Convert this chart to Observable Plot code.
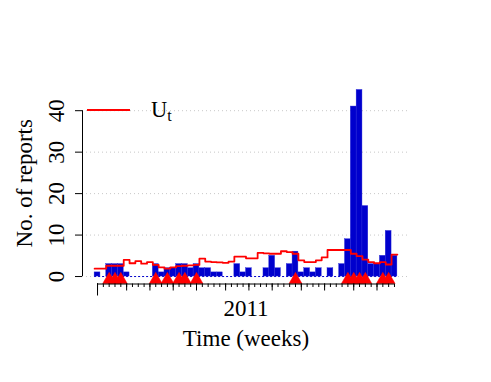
<!DOCTYPE html>
<html>
<head>
<meta charset="utf-8">
<script src="https://cdn.jsdelivr.net/npm/d3@7"></script>
<script src="https://cdn.jsdelivr.net/npm/@observablehq/plot@0.6"></script>
<style>
  html, body { margin: 0; padding: 0; background: #fff; }
  #wrap { position: relative; width: 491px; height: 382px; overflow: hidden; font-family: "Liberation Serif", "DejaVu Serif", serif; }
  #chart { position: absolute; left: 0; top: 0; }
  #legend { position: absolute; left: 0; top: 0; pointer-events: none; }
</style>
</head>
<body>
<div id="wrap">
  <div id="chart"></div>
  <svg id="legend" width="491" height="382">
    <line x1="87" x2="130" y1="110" y2="110" stroke="#ff0000" stroke-width="1.8"></line>
    <text x="151" y="117" font-family="Liberation Serif, serif" font-size="22.5" fill="#000">U<tspan font-size="16" dy="3.5">t</tspan></text>
  </svg>
</div>
<script>
// ---- data ----
const weeks = [1,2,3,4,5,6,7,8,9,10,11,12,13,14,15,16,17,18,19,20,21,22,23,24,25,26,
               27,28,29,30,31,32,33,34,35,36,37,38,39,40,41,42,43,44,45,46,47,48,49,50,51,52];
const observed = [1,0,3,3,3,1,0,0,0,0,3,1,2,2,3,3,2,3,2,2,1,1,0,0,3,1,
                  2,0,0,2,5,2,0,3,6,1,2,1,2,0,2,0,3,9,41,45,17,3,3,5,11,5];
const upperbound = [1.9,1.9,2.6,2.6,2.6,4.0,3.2,3.7,3.1,3.5,2.8,2.2,1.9,2.2,2.5,2.6,2.7,2.8,4.3,3.6,3.5,3.4,3.3,3.6,4.8,4.8,
                    4.4,4.4,5.7,5.6,5.5,5.5,6.1,5.9,5.5,3.9,3.5,3.5,3.9,4.6,6.4,6.4,6.4,6.4,5.5,4.9,4.1,3.5,3.2,3.5,2.9,5.3];
const alarmWeeks = [3,4,5,11,13,15,16,18,35,44,45,46,47,50,51];
const monthStartWeeks = [1,6,10,14,18,23,27,31,36,40,45,49];
const yearStartWeeks = [1];
const yearLabels = ["2011"];
const yTicks = [0,10,20,30,40];
const yLabel = "No. of reports";
const xLabel = "Time (weeks)";

// ---- derived tables ----
const table = weeks.map((w, i) => ({week: w, count: observed[i]}));
const stepData = weeks.map((w, i) => ({x: w - 0.5, y: upperbound[i]}));
stepData.push({x: weeks[weeks.length - 1] + 0.5, y: upperbound[upperbound.length - 1]});
const yearTable = yearLabels.map(label => ({label, week: d3.median(weeks)}));

// R-style 4% axis expansion
const xlo = weeks[0] - 0.5, xhi = weeks[weeks.length - 1] + 0.5;
const xpad = (xhi - xlo) * 0.04;
const ymax = Math.max(d3.max(observed), d3.max(upperbound));
const ypad = ymax * 0.04;

const serif = "Liberation Serif, serif";
const blue = "#0000CD";
const fs = 23;

const chart = Plot.plot({
  width: 491,
  height: 382,
  marginLeft: 82,
  marginRight: 82,
  marginTop: 82,
  marginBottom: 98.5,
  style: {background: "#fff", fontFamily: serif},
  x: {domain: [xlo - xpad, xhi + xpad], axis: null},
  y: {domain: [-ypad, ymax + ypad], axis: null},
  marks: [
    // dotted grid
    Plot.ruleY(yTicks, {stroke: "#c8c8c8", strokeDasharray: "1,3", strokeWidth: 1}),
    // zero baseline of histogram
    Plot.ruleY([0], {x1: xlo, x2: xhi, stroke: blue, strokeDasharray: "2,2", strokeWidth: 1}),
    // bars
    Plot.rectY(table, {x1: d => d.week - 0.5, x2: d => d.week + 0.5, y1: 0, y2: "count",
                       fill: blue, stroke: "#2a2ad8", strokeWidth: 0.4}),
    // threshold U_t
    Plot.line(stepData, {x: "x", y: "y", curve: "step-after", stroke: "#ff0000", strokeWidth: 1.8}),
    // alarms
    Plot.dot(alarmWeeks, {x: d => d, y: 0, dy: 3.3, symbol: "triangle", r: 4.8, fill: "#ff0000", stroke: "#ff0000", strokeWidth: 0.5}),
    // y axis
    Plot.ruleX([xlo - xpad], {y1: yTicks[0], y2: yTicks[yTicks.length - 1], stroke: "#000", strokeWidth: 1}),
    Plot.axisY(yTicks, {anchor: "left", tickSize: 7, tickFormat: () => "", stroke: "#000"}),
    Plot.text(yTicks, {y: d => d, text: d => String(d), frameAnchor: "left", dx: -19, rotate: -90,
                       lineAnchor: "bottom", textAnchor: "middle", fontSize: fs, fontFamily: serif, fill: "#000"}),
    Plot.text([yLabel], {frameAnchor: "left", dx: -51, rotate: -90, lineAnchor: "bottom",
                         textAnchor: "middle", fontSize: fs, fontFamily: serif, fill: "#000"}),
    // x axis
    Plot.ruleY([-ypad], {x1: weeks[0], x2: weeks[weeks.length - 1], stroke: "#000", strokeWidth: 1}),
    Plot.axisX(weeks, {anchor: "bottom", tickSize: 3.5, tickFormat: () => "", stroke: "#000"}),
    Plot.axisX(monthStartWeeks, {anchor: "bottom", tickSize: 7, tickFormat: () => "", stroke: "#000"}),
    Plot.axisX(yearStartWeeks, {anchor: "bottom", tickSize: 12, tickFormat: () => "", stroke: "#000"}),
    Plot.text(yearTable, {x: "week", text: "label", frameAnchor: "bottom", dy: 31.5, lineAnchor: "bottom",
                          fontSize: fs, fontFamily: serif, fill: "#000"}),
    Plot.text([xLabel], {frameAnchor: "bottom", dy: 62, lineAnchor: "bottom",
                         fontSize: fs, fontFamily: serif, fill: "#000"})
  ]
});
document.getElementById("chart").appendChild(chart);
</script>
</body>
</html>
